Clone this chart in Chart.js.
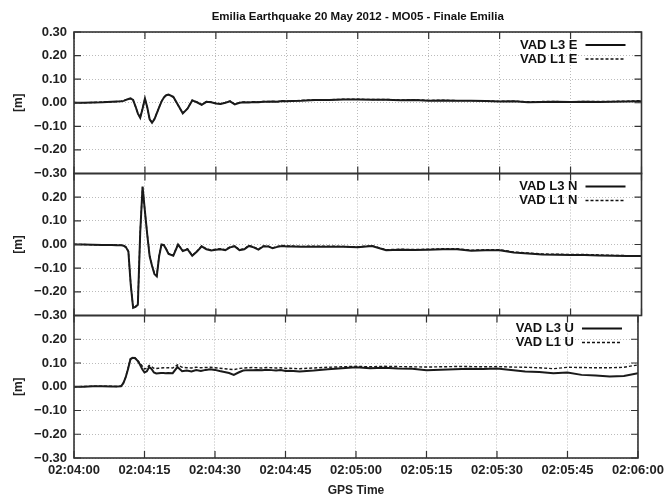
<!DOCTYPE html>
<html>
<head>
<meta charset="utf-8">
<script src="https://cdn.jsdelivr.net/npm/chart.js@4.4.0/dist/chart.umd.min.js"></script>
<style>
  body { margin: 0; background: #fff; }
  #wrap { position: relative; width: 669px; height: 500px; }
  #wrap canvas { position: absolute; left: 0; top: 0; }
</style>
</head>
<body>
<div id="wrap">
  <canvas id="chartE" width="669" height="500"></canvas>
  <canvas id="chartN" width="669" height="500"></canvas>
  <canvas id="chartU" width="669" height="500"></canvas>
</div>
<script>
// seconds after 02:04:00
const secs = [0, 2, 4, 6, 8, 9, 10, 10.5, 11, 11.5,
  12, 12.5, 13, 13.5, 14, 14.5, 15, 15.5, 16, 16.5,
  17, 17.5, 18, 18.5, 19, 19.5, 20, 21, 22, 23,
  24, 25, 26, 27, 28, 29, 30, 31, 32, 33,
  34, 35, 36, 37, 38, 39, 40, 41, 42, 43,
  44, 45, 46, 48,
  51, 54, 57, 60, 63, 66, 69, 72, 75, 78,
  81, 84, 87, 90, 93, 96, 99, 102, 105, 108,
  111, 114, 117, 120];

const yTicks = [-0.3, -0.2, -0.1, 0, 0.1, 0.2, 0.3];

// East
const eL3 = [0, 0, 0.001, 0.002, 0.004, 0.005, 0.006, 0.008, 0.012, 0.016,
  0.018, 0.012, -0.015, -0.045, -0.064, -0.025, 0.018, -0.02, -0.07, -0.085,
  -0.07, -0.045, -0.02, 0.005, 0.022, 0.032, 0.035, 0.025, -0.01, -0.045,
  -0.025, 0.01, 0.002, -0.009, 0.004, 0.002, -0.003, -0.005, 0.0, 0.006,
  -0.007, 0.0, 0.002, 0.001, 0.003, 0.002, 0.004, 0.004, 0.005, 0.004,
  0.007, 0.006, 0.007, 0.008,
  0.012, 0.012, 0.014, 0.014, 0.013, 0.013, 0.011, 0.012, 0.009, 0.010,
  0.008, 0.008, 0.007, 0.005, 0.006, 0.002, 0.003, 0.004, 0.003, 0.004,
  0.003, 0.004, 0.005, 0.006];
const eL1 = [0.001, 0, 0.001, 0.003, 0.004, 0.005, 0.007, 0.009, 0.013, 0.017,
  0.019, 0.011, -0.016, -0.046, -0.062, -0.024, 0.017, -0.021, -0.069, -0.083,
  -0.069, -0.044, -0.019, 0.006, 0.023, 0.033, 0.034, 0.024, -0.011, -0.044,
  -0.024, 0.011, 0.003, -0.008, 0.005, 0.003, -0.002, -0.004, 0.001, 0.007,
  -0.006, 0.001, 0.003, 0.002, 0.004, 0.003, 0.005, 0.005, 0.006, 0.005,
  0.008, 0.007, 0.008, 0.010,
  0.013, 0.013, 0.015, 0.015, 0.014, 0.014, 0.012, 0.013, 0.010, 0.011,
  0.009, 0.009, 0.008, 0.006, 0.007, 0.004, 0.005, 0.005, 0.004, 0.006,
  0.005, 0.006, 0.007, 0.009];

// North
const nL3 = [0, 0, -0.001, -0.002, -0.002, -0.003, -0.003, -0.005, -0.012, -0.03,
  -0.17, -0.268, -0.264, -0.255, 0.05, 0.245, 0.14, 0.04, -0.05, -0.09,
  -0.125, -0.135, -0.05, 0.0, -0.003, -0.02, -0.04, -0.047, 0.0, -0.028,
  -0.02, -0.048, -0.03, -0.008, -0.02, -0.025, -0.022, -0.02, -0.024, -0.012,
  -0.008, -0.024, -0.02, -0.006, -0.012, -0.022, -0.008, -0.008, -0.016, -0.01,
  -0.006, -0.008, -0.008, -0.01,
  -0.009, -0.009, -0.01, -0.012, -0.006, -0.024, -0.022, -0.023, -0.022, -0.02,
  -0.02, -0.026, -0.024, -0.024, -0.034, -0.038, -0.042, -0.043, -0.044, -0.044,
  -0.046, -0.048, -0.049, -0.049];
const nL1 = [0.001, 0, -0.001, -0.001, -0.002, -0.002, -0.003, -0.004, -0.011, -0.028,
  -0.168, -0.265, -0.262, -0.252, 0.052, 0.242, 0.138, 0.041, -0.048, -0.088,
  -0.122, -0.132, -0.048, 0.002, -0.001, -0.018, -0.038, -0.045, 0.001, -0.026,
  -0.018, -0.046, -0.028, -0.006, -0.018, -0.023, -0.02, -0.018, -0.022, -0.01,
  -0.006, -0.022, -0.018, -0.004, -0.01, -0.02, -0.006, -0.006, -0.014, -0.008,
  -0.004, -0.006, -0.006, -0.008,
  -0.007, -0.007, -0.008, -0.01, -0.005, -0.022, -0.02, -0.021, -0.02, -0.018,
  -0.018, -0.024, -0.022, -0.022, -0.032, -0.036, -0.04, -0.041, -0.042, -0.042,
  -0.044, -0.046, -0.047, -0.047];

// Up
const uL3 = [0.0, 0.0, 0.002, 0.002, 0.001, 0.001, 0.002, 0.015, 0.04, 0.075,
  0.115, 0.122, 0.12, 0.11, 0.095, 0.075, 0.06, 0.065, 0.083, 0.075,
  0.06, 0.056, 0.057, 0.058, 0.058, 0.057, 0.058, 0.057, 0.083, 0.065,
  0.068, 0.064, 0.07, 0.066, 0.071, 0.074, 0.071, 0.066, 0.062, 0.058,
  0.05, 0.06, 0.068, 0.07, 0.07, 0.071, 0.069, 0.072, 0.07, 0.068,
  0.07, 0.066, 0.067, 0.064,
  0.068, 0.074, 0.078, 0.082, 0.078, 0.08, 0.077, 0.076, 0.07, 0.072,
  0.074, 0.076, 0.075, 0.077, 0.071, 0.064, 0.062, 0.057, 0.06, 0.05,
  0.047, 0.043, 0.045, 0.057];
const uL1 = [0.0, 0.001, 0.002, 0.002, 0.002, 0.001, 0.003, 0.016, 0.042, 0.078,
  0.118, 0.124, 0.122, 0.112, 0.1, 0.088, 0.075, 0.078, 0.09, 0.085,
  0.078, 0.077, 0.078, 0.079, 0.08, 0.079, 0.08, 0.079, 0.092, 0.082,
  0.08, 0.079, 0.082, 0.08, 0.081, 0.082, 0.08, 0.078, 0.076, 0.074,
  0.072, 0.076, 0.079, 0.08, 0.081, 0.08, 0.079, 0.081, 0.08, 0.079,
  0.08, 0.077, 0.078, 0.076,
  0.079, 0.082, 0.084, 0.086, 0.084, 0.086, 0.085, 0.084, 0.083, 0.084,
  0.085, 0.085, 0.084, 0.085, 0.083, 0.082, 0.08, 0.076, 0.082, 0.081,
  0.08, 0.08, 0.082, 0.092];

const FONT = '"Liberation Sans", Arial, sans-serif';
Chart.defaults.font.family = FONT;
Chart.defaults.color = '#222';

function fmtY(v) {
  const s = Math.abs(v).toFixed(2);
  return v < -1e-9 ? '\u2212' + s : s;
}

function fmtTime(v) {
  const total = 4 * 60 + v;
  const mm = Math.floor(total / 60);
  const ss = Math.round(total % 60);
  return '02:' + String(mm).padStart(2, '0') + ':' + String(ss).padStart(2, '0');
}

// border box, gnuplot style inner ticks, legend and title
const frame = {
  id: 'frame',
  afterDraw(chart, args, opts) {
    const { ctx, chartArea: a, scales: { x, y } } = chart;
    ctx.save();
    ctx.strokeStyle = '#333';
    ctx.lineWidth = 1.2;
    ctx.beginPath();
    x.ticks.forEach(t => {
      const px = x.getPixelForValue(t.value);
      ctx.moveTo(px, a.top); ctx.lineTo(px, a.top + 7);
      ctx.moveTo(px, a.bottom); ctx.lineTo(px, a.bottom - 7);
    });
    y.ticks.forEach(t => {
      const py = y.getPixelForValue(t.value);
      ctx.moveTo(a.left, py); ctx.lineTo(a.left + 7, py);
      ctx.moveTo(a.right, py); ctx.lineTo(a.right - 7, py);
    });
    ctx.stroke();
    ctx.lineWidth = 1.6;
    ctx.strokeRect(a.left, a.top, a.right - a.left, a.bottom - a.top);

    // legend
    ctx.font = 'bold 13px ' + FONT;
    ctx.fillStyle = '#111';
    ctx.strokeStyle = '#111';
    ctx.textAlign = 'right';
    ctx.textBaseline = 'middle';
    opts.labels.forEach((lab, i) => {
      const ly = a.top + 13 + i * 14;
      ctx.fillText(lab, a.right - 64, ly);
      ctx.setLineDash(i === 0 ? [] : [3, 2]);
      ctx.lineWidth = i === 0 ? 1.8 : 1.3;
      ctx.beginPath();
      ctx.moveTo(a.right - 56, ly);
      ctx.lineTo(a.right - 16, ly);
      ctx.stroke();
    });
    ctx.setLineDash([]);

    if (opts.title) {
      ctx.textAlign = 'center';
      ctx.font = 'bold 11.5px ' + FONT;
      ctx.fillText(opts.title, (a.left + a.right) / 2, 17);
    }
    ctx.restore();
  }
};

function makePanel(id, l3, l1, labels, padTop, padBottom, isTop, isBottom) {
  return new Chart(document.getElementById(id), {
    type: 'line',
    data: {
      datasets: [{
        label: labels[0],
        data: secs.map((s, i) => ({ x: s, y: l3[i] })),
        borderColor: '#1a1a1a',
        borderWidth: 2,
        pointRadius: 0,
        fill: false
      }, {
        label: labels[1],
        data: secs.map((s, i) => ({ x: s, y: l1[i] })),
        borderColor: '#1a1a1a',
        borderWidth: 1.4,
        borderDash: [3, 2],
        pointRadius: 0,
        fill: false
      }]
    },
    options: {
      responsive: false,
      animation: false,
      layout: { padding: { top: padTop, bottom: padBottom, left: 0, right: 27.5 } },
      plugins: {
        legend: { display: false },
        tooltip: { enabled: false },
        frame: { labels: labels, title: isTop ? 'Emilia Earthquake 20 May 2012 - MO05 - Finale Emilia' : null }
      },
      scales: {
        x: {
          type: 'linear',
          min: 0,
          max: 120,
          afterFit(s) { s.height = isBottom ? 42 : 0; },
          ticks: {
            display: isBottom,
            stepSize: 15,
            padding: 5,
            maxRotation: 0,
            autoSkip: false,
            font: { size: 13, weight: 'bold' },
            callback: fmtTime
          },
          grid: { color: '#bbb', lineWidth: 1, drawTicks: false },
          border: { display: false, dash: [1, 2] },
          title: {
            display: isBottom,
            text: 'GPS Time',
            font: { size: 12, weight: 'bold' },
            padding: { top: 0, bottom: 2 }
          }
        },
        y: {
          min: -0.3,
          max: 0.3,
          afterFit(s) { s.width = 74; },
          afterBuildTicks(s) { s.ticks = yTicks.map(v => ({ value: v })); },
          ticks: {
            padding: 7,
            font: { size: 13, weight: 'bold' },
            callback: v => (!isTop && v > 0.29) ? '' : fmtY(v)
          },
          grid: { color: '#bbb', lineWidth: 1, drawTicks: false },
          border: { display: false, dash: [1, 2] },
          title: {
            display: true,
            text: '[m]',
            font: { size: 12, weight: 'bold' },
            padding: { top: 11, bottom: 0 }
          }
        }
      }
    },
    plugins: [frame]
  });
}

makePanel('chartE', eL3, eL1, ['VAD L3 E', 'VAD L1 E'], 32, 500 - 173.5, true, false);
makePanel('chartN', nL3, nL1, ['VAD L3 N', 'VAD L1 N'], 173.5, 500 - 315.5, false, false);
makePanel('chartU', uL3, uL1, ['VAD L3 U', 'VAD L1 U'], 315.5, 0, false, true);
</script>
</body>
</html>
